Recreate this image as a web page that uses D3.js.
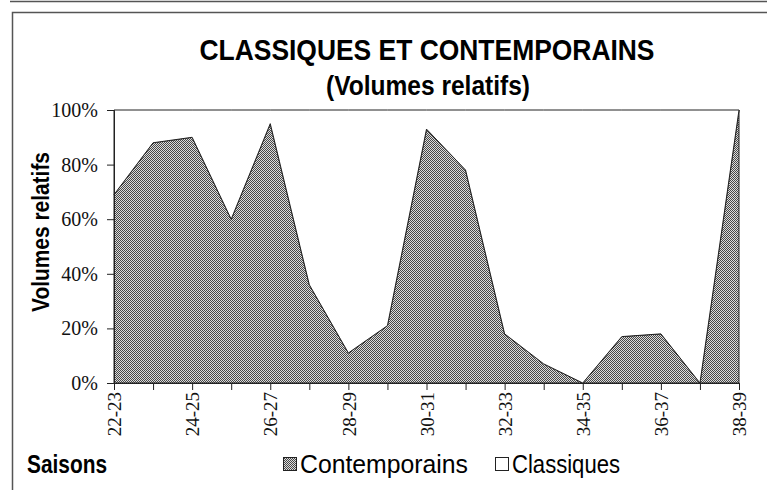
<!DOCTYPE html>
<html>
<head>
<meta charset="utf-8">
<script src="https://cdn.jsdelivr.net/npm/d3@7"></script>
<style>
  body { margin: 0; background: #fff; }
  svg { display: block; }
  .tick text { font-family: "Liberation Serif", "DejaVu Serif", serif; }
</style>
</head>
<body>
<div id="chart"></div>
<script>
// seasons (x categories)
let seasons = ["22-23", "23-24", "24-25", "25-26", "26-27", "27-28", "28-29", "29-30", "30-31",
               "31-32", "32-33", "33-34", "34-35", "35-36", "36-37", "37-38", "38-39"];

// relative volumes, percent
let contemporains = [69, 88, 90, 60, 95, 36, 11, 21, 93, 78, 18, 7, 0, 17, 18, 0, 100];
let classiques    = [31, 12, 10, 40, 5, 64, 89, 79, 7, 22, 82, 93, 100, 83, 82, 100, 0];

let yTicks = [0, 0.2, 0.4, 0.6, 0.8, 1];
let seriesNames = ["Contemporains", "Classiques"];

let W = 767, H = 490;
let margin = { top: 110, right: 28, bottom: 107, left: 114 };
let width = W - margin.left - margin.right;
let height = H - margin.top - margin.bottom;

let svg = d3.select("#chart").append("svg")
    .attr("width", W)
    .attr("height", H);

// halftone-like fill
let defs = svg.append("defs");
let pat = defs.append("pattern")
    .attr("id", "dots")
    .attr("width", 2).attr("height", 2)
    .attr("patternUnits", "userSpaceOnUse");
pat.append("rect").attr("width", 2).attr("height", 2).attr("fill", "#dcdcdc");
pat.append("rect").attr("width", 1).attr("height", 1).attr("fill", "#474747");
pat.append("rect").attr("x", 1).attr("y", 1).attr("width", 1).attr("height", 1).attr("fill", "#474747");

// outer frame
svg.append("line").attr("x1", 10).attr("x2", W).attr("y1", 1.5).attr("y2", 1.5)
    .attr("stroke", "#555").attr("stroke-width", 1.5);
svg.append("path").attr("d", `M${W},12.5H12.5V${H}`)
    .attr("fill", "none").attr("stroke", "#555").attr("stroke-width", 1.5);

let table = seasons.map((s, i) => ({ season: s, Contemporains: contemporains[i], Classiques: classiques[i] }));
let stacked = d3.stack().keys(seriesNames).offset(d3.stackOffsetExpand)(table);

let x = d3.scalePoint().domain(seasons).range([0, width]);
let y = d3.scaleLinear().domain([0, 1]).range([height, 0]);

let g = svg.append("g").attr("transform", `translate(${margin.left},${margin.top})`);

let area = d3.area()
    .x(d => x(d.data.season))
    .y0(d => y(d[0]))
    .y1(d => y(d[1]));

let fills = ["url(#dots)", "#fff"];
g.selectAll("path.area")
    .data(stacked)
    .enter().append("path")
    .attr("class", "area")
    .attr("d", area)
    .attr("fill", (d, i) => fills[i])
    .attr("stroke", "#222")
    .attr("stroke-width", 1)
    .attr("stroke-linejoin", "miter");

// y axis
let yAxis = d3.axisLeft(y)
    .tickValues(yTicks)
    .tickSize(7)
    .tickPadding(9)
    .tickFormat(d3.format(".0%"));
let ya = g.append("g").call(yAxis);
ya.select(".domain").attr("stroke", "#222");
ya.selectAll(".tick line").attr("stroke", "#222");
ya.selectAll(".tick text").attr("font-size", 20).attr("fill", "#111");

// x axis
let xAxis = d3.axisBottom(x)
    .tickSize(7)
    .tickSizeOuter(0)
    .tickFormat((d, i) => i % 2 === 0 ? d : "");
let xa = g.append("g").attr("transform", `translate(0,${height})`).call(xAxis);
xa.select(".domain").attr("stroke", "#222");
xa.selectAll(".tick line").attr("stroke", "#222");
xa.selectAll(".tick text")
    .attr("font-size", 19)
    .attr("fill", "#111")
    .attr("text-anchor", "end")
    .attr("transform", "rotate(-90)")
    .attr("x", -9)
    .attr("y", 0)
    .attr("dy", "0.35em");

// titles
let sansBold = "'Liberation Sans Narrow', 'Liberation Sans', Arial, sans-serif";
svg.append("text")
    .attr("x", 427).attr("y", 60)
    .attr("text-anchor", "middle")
    .attr("font-family", sansBold)
    .attr("font-weight", "bold")
    .attr("font-size", 30)
    .attr("textLength", 455)
    .attr("lengthAdjust", "spacingAndGlyphs")
    .text("CLASSIQUES ET CONTEMPORAINS");
svg.append("text")
    .attr("x", 428).attr("y", 95)
    .attr("text-anchor", "middle")
    .attr("font-family", sansBold)
    .attr("font-weight", "bold")
    .attr("font-size", 28)
    .attr("textLength", 204)
    .attr("lengthAdjust", "spacingAndGlyphs")
    .text("(Volumes relatifs)");

svg.append("text")
    .attr("transform", `translate(49,${232}) rotate(-90)`)
    .attr("text-anchor", "middle")
    .attr("font-family", sansBold)
    .attr("font-weight", "bold")
    .attr("font-size", 23)
    .attr("textLength", 160)
    .attr("lengthAdjust", "spacingAndGlyphs")
    .text("Volumes relatifs");

svg.append("text")
    .attr("x", 27).attr("y", 473)
    .attr("font-family", sansBold)
    .attr("font-weight", "bold")
    .attr("font-size", 25)
    .attr("textLength", 80)
    .attr("lengthAdjust", "spacingAndGlyphs")
    .text("Saisons");

// legend
let legend = svg.append("g").attr("transform", "translate(283,473)");
let legX = [0, 212];
let legW = [168, 108];
let items = legend.selectAll("g.item")
    .data(seriesNames)
    .enter().append("g")
    .attr("class", "item")
    .attr("transform", (d, i) => `translate(${legX[i]},0)`);
items.append("rect")
    .attr("x", 0.5).attr("y", -15.5)
    .attr("width", 13).attr("height", 13)
    .attr("fill", (d, i) => fills[i])
    .attr("stroke", "#222");
items.append("text")
    .attr("x", 17).attr("y", 0)
    .attr("font-family", sansBold)
    .attr("font-size", 26)
    .attr("textLength", (d, i) => legW[i])
    .attr("lengthAdjust", "spacingAndGlyphs")
    .text(d => d);
</script>
</body>
</html>
